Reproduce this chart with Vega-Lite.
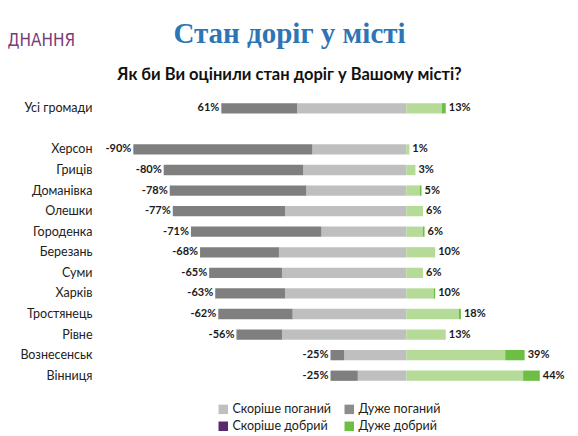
{
  "$schema": "https://vega.github.io/schema/vega-lite/v6.json",
  "width": 455,
  "height": 288,
  "autosize": "none",
  "padding": {"left": 103, "top": 98, "right": 20, "bottom": 50},
  "background": "white",
  "config": {"view": {"stroke": null}, "font": "Lato"},
  "title": {
    "text": "Стан доріг у місті",
    "subtitle": "Як би Ви оцінили стан доріг у Вашому місті?",
    "anchor": "middle",
    "frame": "group",
    "dx": -41,
    "offset": -52,
    "font": "Liberation Serif",
    "fontSize": 29,
    "fontWeight": "bold",
    "color": "#2e75b6",
    "subtitleFont": "Lato",
    "subtitleFontSize": 16.5,
    "subtitleFontWeight": "bold",
    "subtitleColor": "#111111",
    "subtitlePadding": 18
  },
  "datasets": {
    "seg": [
      {"group": "Усі громади", "category": "Скоріше поганий", "value": -36, "o": 1},
      {"group": "Усі громади", "category": "Дуже поганий", "value": -25, "o": 2},
      {"group": "Усі громади", "category": "Скоріше добрий", "value": 11.7, "o": 3},
      {"group": "Усі громади", "category": "Дуже добрий", "value": 1.3, "o": 4},
      {"group": "Херсон", "category": "Скоріше поганий", "value": -31, "o": 1},
      {"group": "Херсон", "category": "Дуже поганий", "value": -59, "o": 2},
      {"group": "Херсон", "category": "Скоріше добрий", "value": 1, "o": 3},
      {"group": "Херсон", "category": "Дуже добрий", "value": 0, "o": 4},
      {"group": "Гриців", "category": "Скоріше поганий", "value": -34, "o": 1},
      {"group": "Гриців", "category": "Дуже поганий", "value": -46, "o": 2},
      {"group": "Гриців", "category": "Скоріше добрий", "value": 3, "o": 3},
      {"group": "Гриців", "category": "Дуже добрий", "value": 0, "o": 4},
      {"group": "Доманівка", "category": "Скоріше поганий", "value": -33, "o": 1},
      {"group": "Доманівка", "category": "Дуже поганий", "value": -45, "o": 2},
      {"group": "Доманівка", "category": "Скоріше добрий", "value": 4.5, "o": 3},
      {"group": "Доманівка", "category": "Дуже добрий", "value": 0.5, "o": 4},
      {"group": "Олешки", "category": "Скоріше поганий", "value": -40, "o": 1},
      {"group": "Олешки", "category": "Дуже поганий", "value": -37, "o": 2},
      {"group": "Олешки", "category": "Скоріше добрий", "value": 5.5, "o": 3},
      {"group": "Олешки", "category": "Дуже добрий", "value": 0, "o": 4},
      {"group": "Городенка", "category": "Скоріше поганий", "value": -28, "o": 1},
      {"group": "Городенка", "category": "Дуже поганий", "value": -43, "o": 2},
      {"group": "Городенка", "category": "Скоріше добрий", "value": 5.5, "o": 3},
      {"group": "Городенка", "category": "Дуже добрий", "value": 0.5, "o": 4},
      {"group": "Березань", "category": "Скоріше поганий", "value": -42, "o": 1},
      {"group": "Березань", "category": "Дуже поганий", "value": -26, "o": 2},
      {"group": "Березань", "category": "Скоріше добрий", "value": 9.5, "o": 3},
      {"group": "Березань", "category": "Дуже добрий", "value": 0, "o": 4},
      {"group": "Суми", "category": "Скоріше поганий", "value": -41, "o": 1},
      {"group": "Суми", "category": "Дуже поганий", "value": -24, "o": 2},
      {"group": "Суми", "category": "Скоріше добрий", "value": 5.5, "o": 3},
      {"group": "Суми", "category": "Дуже добрий", "value": 0, "o": 4},
      {"group": "Харків", "category": "Скоріше поганий", "value": -40, "o": 1},
      {"group": "Харків", "category": "Дуже поганий", "value": -23, "o": 2},
      {"group": "Харків", "category": "Скоріше добрий", "value": 9, "o": 3},
      {"group": "Харків", "category": "Дуже добрий", "value": 0.5, "o": 4},
      {"group": "Тростянець", "category": "Скоріше поганий", "value": -37.5, "o": 1},
      {"group": "Тростянець", "category": "Дуже поганий", "value": -24.5, "o": 2},
      {"group": "Тростянець", "category": "Скоріше добрий", "value": 17.3, "o": 3},
      {"group": "Тростянець", "category": "Дуже добрий", "value": 0.7, "o": 4},
      {"group": "Рівне", "category": "Скоріше поганий", "value": -41, "o": 1},
      {"group": "Рівне", "category": "Дуже поганий", "value": -15, "o": 2},
      {"group": "Рівне", "category": "Скоріше добрий", "value": 13, "o": 3},
      {"group": "Рівне", "category": "Дуже добрий", "value": 0, "o": 4},
      {"group": "Вознесенськ", "category": "Скоріше поганий", "value": -20.5, "o": 1},
      {"group": "Вознесенськ", "category": "Дуже поганий", "value": -4.5, "o": 2},
      {"group": "Вознесенськ", "category": "Скоріше добрий", "value": 32.6, "o": 3},
      {"group": "Вознесенськ", "category": "Дуже добрий", "value": 6.4, "o": 4},
      {"group": "Вінниця", "category": "Скоріше поганий", "value": -16, "o": 1},
      {"group": "Вінниця", "category": "Дуже поганий", "value": -9, "o": 2},
      {"group": "Вінниця", "category": "Скоріше добрий", "value": 38.5, "o": 3},
      {"group": "Вінниця", "category": "Дуже добрий", "value": 5.5, "o": 4}
    ],
    "lab": [
      {"group": "Усі громади", "neg": -61, "negLabel": "61%", "pos": 13, "posLabel": "13%"},
      {"group": "Херсон", "neg": -90, "negLabel": "-90%", "pos": 1, "posLabel": "1%"},
      {"group": "Гриців", "neg": -80, "negLabel": "-80%", "pos": 3, "posLabel": "3%"},
      {"group": "Доманівка", "neg": -78, "negLabel": "-78%", "pos": 5, "posLabel": "5%"},
      {"group": "Олешки", "neg": -77, "negLabel": "-77%", "pos": 5.5, "posLabel": "6%"},
      {"group": "Городенка", "neg": -71, "negLabel": "-71%", "pos": 6, "posLabel": "6%"},
      {"group": "Березань", "neg": -68, "negLabel": "-68%", "pos": 9.5, "posLabel": "10%"},
      {"group": "Суми", "neg": -65, "negLabel": "-65%", "pos": 5.5, "posLabel": "6%"},
      {"group": "Харків", "neg": -63, "negLabel": "-63%", "pos": 9.5, "posLabel": "10%"},
      {"group": "Тростянець", "neg": -62, "negLabel": "-62%", "pos": 18, "posLabel": "18%"},
      {"group": "Рівне", "neg": -56, "negLabel": "-56%", "pos": 13, "posLabel": "13%"},
      {"group": "Вознесенськ", "neg": -25, "negLabel": "-25%", "pos": 39, "posLabel": "39%"},
      {"group": "Вінниця", "neg": -25, "negLabel": "-25%", "pos": 44, "posLabel": "44%"}
    ]
  },
  "encoding": {
    "y": {
      "field": "group",
      "type": "nominal",
      "sort": null,
      "scale": {
        "domain": ["Усі громади", " ", "Херсон", "Гриців", "Доманівка", "Олешки", "Городенка", "Березань", "Суми", "Харків", "Тростянець", "Рівне", "Вознесенськ", "Вінниця"],
        "paddingInner": 0.5,
        "paddingOuter": 0.25
      },
      "axis": {
        "title": "ДНАННЯ",
        "titleAngle": 0,
        "titleX": -96,
        "titleY": -58,
        "titleAlign": "left",
        "titleBaseline": "middle",
        "titleFont": "DejaVu Sans Condensed, Liberation Sans",
        "titleFontSize": 17,
        "titleFontWeight": "normal",
        "titleColor": "#7a3b7a",
        "ticks": false,
        "domain": false,
        "labelPadding": 11,
        "labelFont": "Lato",
        "labelFontSize": 12.5,
        "labelColor": "#222222"
      }
    }
  },
  "layer": [
    {
      "data": {"name": "seg"},
      "mark": {"type": "bar", "opacity": 0},
      "encoding": {
        "x": {"field": "value", "type": "quantitative", "stack": "zero", "scale": {"domain": [-100, 50], "nice": false, "zero": false}, "axis": null},
        "order": {"field": "o"},
        "color": {
          "field": "category",
          "type": "nominal",
          "scale": {
            "domain": ["Скоріше поганий", "Дуже поганий", "Скоріше добрий", "Дуже добрий"],
            "range": ["#bfbfbf", "#8c8c8c", "#5a2a6a", "#6cbf43"]
          },
          "legend": {
            "title": null,
            "orient": "none",
            "legendX": 114,
            "legendY": 305,
            "direction": "horizontal",
            "columns": 2,
            "columnPadding": 11,
            "rowPadding": 4,
            "symbolType": "square",
            "symbolSize": 90,
            "symbolOpacity": 1,
            "symbolStrokeWidth": 0,
            "labelFont": "Lato",
            "labelFontSize": 12.5,
            "labelColor": "#222222",
            "labelOffset": 3
          }
        }
      }
    },
    {
      "data": {"name": "seg"},
      "mark": {"type": "bar"},
      "encoding": {
        "x": {"field": "value", "type": "quantitative", "stack": "zero"},
        "order": {"field": "o"},
        "color": {
          "field": "category",
          "type": "nominal",
          "scale": {
            "domain": ["Скоріше поганий", "Дуже поганий", "Скоріше добрий", "Дуже добрий"],
            "range": ["#bfbfbf", "#7f7f7f", "#b6db98", "#6cbf43"]
          },
          "legend": null
        }
      }
    },
    {
      "mark": {"type": "rule", "color": "#808080", "strokeWidth": 1},
      "encoding": {"x": {"datum": 0}, "y": null}
    },
    {
      "data": {"name": "lab"},
      "mark": {"type": "text", "align": "right", "baseline": "middle", "dx": -2, "font": "Lato", "fontSize": 11, "fontWeight": "bold", "color": "#1a1a1a"},
      "encoding": {
        "x": {"field": "neg", "type": "quantitative"},
        "text": {"field": "negLabel"}
      }
    },
    {
      "data": {"name": "lab"},
      "mark": {"type": "text", "align": "left", "baseline": "middle", "dx": 3, "font": "Lato", "fontSize": 11, "fontWeight": "bold", "color": "#1a1a1a"},
      "encoding": {
        "x": {"field": "pos", "type": "quantitative"},
        "text": {"field": "posLabel"}
      }
    }
  ],
  "resolve": {"scale": {"color": "independent"}, "legend": {"color": "independent"}}
}
